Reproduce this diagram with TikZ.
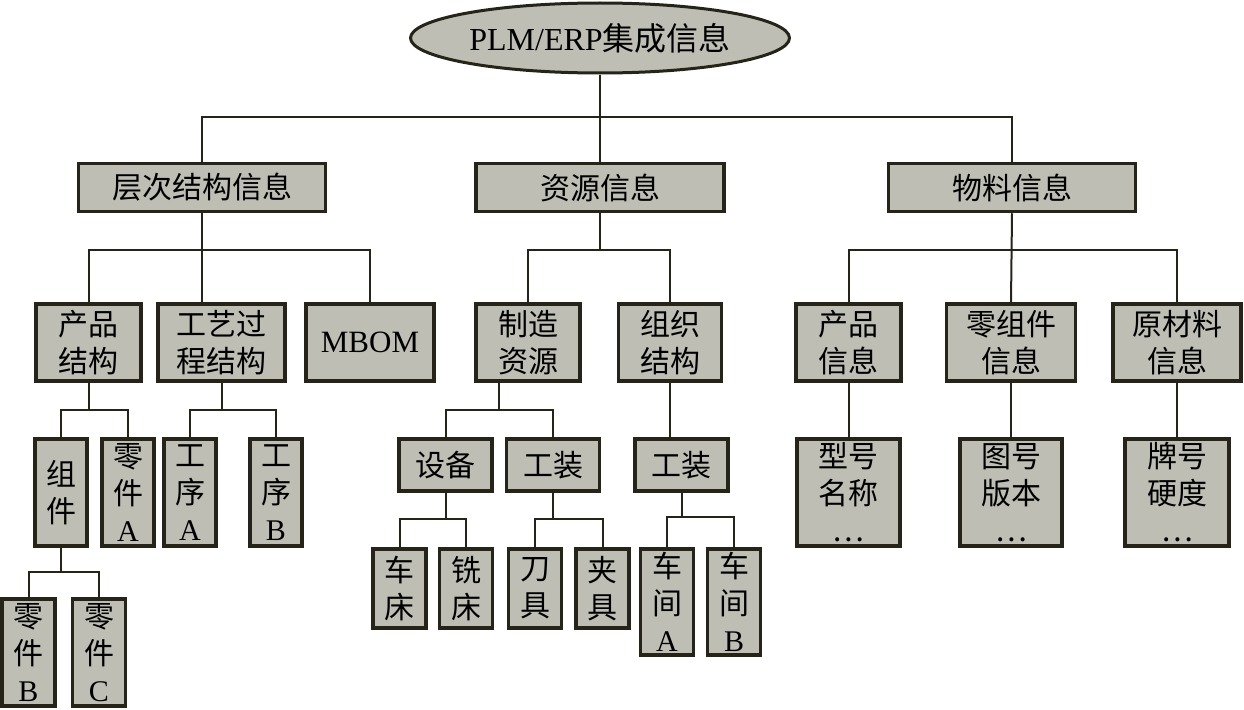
\documentclass[tikz,border=0pt]{standalone}
\usepackage{fontspec}
\setmainfont{Liberation Serif}
\newfontfamily\cjk{Noto Sans CJK SC}
\usetikzlibrary{shapes.geometric,calc}
\definecolor{boxfill}{RGB}{190,190,181}
\definecolor{boxline}{RGB}{38,36,24}
\begin{document}
\begin{tikzpicture}[x=1pt,y=-1pt,
  box/.style={draw=boxline,line width=3.5pt,fill=boxfill,inner sep=0pt,align=center,
    font=\fontsize{30}{37}\selectfont\cjk},
  conn/.style={draw=boxline,line width=2pt}]
\useasboundingbox (0,0) rectangle (1244,709);
% root
\node[ellipse,draw=boxline,line width=3pt,fill=boxfill,inner sep=0pt,
  minimum width=379pt,minimum height=70pt,font=\fontsize{32}{38}\selectfont] (root) at (600,38) {PLM/ERP{\cjk 集成信息}};
% level 1
\node[box,minimum width=247pt,minimum height=48pt] (L1a) at (202,187.5) {层次结构信息};
\node[box,minimum width=248pt,minimum height=48pt] (L1b) at (600,187.5) {资源信息};
\node[box,minimum width=247pt,minimum height=48pt] (L1c) at (1012,187.5) {物料信息};
% level 2
\node[box,minimum width=105pt,minimum height=77pt] (cpjg) at (88.5,342.5) {产品\\结构};
\node[box,minimum width=127pt,minimum height=77pt] (gygc) at (221.5,342.5) {工艺过\\程结构};
\node[box,minimum width=128pt,minimum height=77pt,font=\fontsize{31}{37}\selectfont] (mbom) at (370,342.5) {MBOM};
\node[box,minimum width=104pt,minimum height=77pt] (zzzy) at (528,342.5) {制造\\资源};
\node[box,minimum width=103pt,minimum height=77pt] (zzjg) at (670,342.5) {组织\\结构};
\node[box,minimum width=105pt,minimum height=77pt] (cpxx) at (848.5,342.5) {产品\\信息};
\node[box,minimum width=129pt,minimum height=77pt] (lzj) at (1011,342.5) {零组件\\信息};
\node[box,minimum width=128pt,minimum height=77pt] (ycl) at (1177,342.5) {原材料\\信息};
% level 3
\node[box,minimum width=52pt,minimum height=107pt] (zj) at (61,492.5) {组\\件};
\node[box,minimum width=52pt,minimum height=107pt] (ljA) at (128,492.5) {零\\件\\{\rmfamily A}};
\node[box,minimum width=52pt,minimum height=107pt] (gxA) at (190,492.5) {工\\序\\{\rmfamily A}};
\node[box,minimum width=52pt,minimum height=107pt] (gxB) at (276,492.5) {工\\序\\{\rmfamily B}};
\node[box,minimum width=93pt,minimum height=52pt] (sb) at (445.5,465) {设备};
\node[box,minimum width=93pt,minimum height=52pt] (gz) at (553,465) {工装};
\node[box,minimum width=93pt,minimum height=52pt] (gz2) at (681.5,465) {工装};
\node[box,minimum width=103pt,minimum height=107pt] (xhmc) at (848.5,492.5) {型号\\名称\\…};
\node[box,minimum width=102pt,minimum height=107pt] (thbb) at (1011,492.5) {图号\\版本\\…};
\node[box,minimum width=104pt,minimum height=107pt] (phyd) at (1177,492.5) {牌号\\硬度\\…};
% level 4
\node[box,minimum width=53pt,minimum height=79pt] (cc) at (399.5,588.5) {车\\床};
\node[box,minimum width=53pt,minimum height=79pt] (xc) at (466,588.5) {铣\\床};
\node[box,minimum width=53pt,minimum height=79pt] (dj) at (535,588.5) {刀\\具};
\node[box,minimum width=53pt,minimum height=79pt] (jj) at (602.5,588.5) {夹\\具};
\node[box,minimum width=53pt,minimum height=106pt] (cjA) at (667,602) {车\\间\\{\rmfamily A}};
\node[box,minimum width=53pt,minimum height=106pt] (cjB) at (734,602) {车\\间\\{\rmfamily B}};
% level 5
\node[box,minimum width=53pt,minimum height=107pt] (ljB) at (28.5,652.5) {零\\件\\{\rmfamily B}};
\node[box,minimum width=53pt,minimum height=107pt] (ljC) at (99,652.5) {零\\件\\{\rmfamily C}};
% bus coordinates
\coordinate (bus0) at (0,117);
\coordinate (bus1) at (0,250);
\coordinate (bus2) at (0,410);
\coordinate (bus3) at (0,572);
\coordinate (bus4) at (0,519);
\coordinate (bus5) at (0,517);
\coordinate (m1) at ($(sb.north)!0.5!(gz.north)$);
% connectors
\draw[conn] (root.south) -- (L1b.north);
\draw[conn] (L1a.north) |- (L1c.north |- bus0) -- (L1c.north);
\draw[conn] (L1a.south) -- (L1a.south |- gygc.north);
\draw[conn] (cpjg.north) |- (mbom.north |- bus1) -- (mbom.north);
\draw[conn] (L1b.south) -- (L1b.south |- bus1);
\draw[conn] (zzzy.north) |- (zzjg.north |- bus1) -- (zzjg.north);
\draw[conn] (L1c.south) -- (lzj.north);
\draw[conn] (cpxx.north) |- (ycl.north |- bus1) -- (ycl.north);
\draw[conn] (cpjg.south) -- (cpjg.south |- bus2);
\draw[conn] (zj.north) |- (ljA.north |- bus2) -- (ljA.north);
\draw[conn] (gygc.south) -- (gygc.south |- bus2);
\draw[conn] (gxA.north) |- (gxB.north |- bus2) -- (gxB.north);
\draw[conn] (zzzy.south -| m1) -- (m1 |- bus2);
\draw[conn] (sb.north) |- (gz.north |- bus2) -- (gz.north);
\draw[conn] (zzjg.south) -- (zzjg.south |- gz2.north);
\draw[conn] (cpxx.south) -- (xhmc.north);
\draw[conn] (lzj.south) -- (thbb.north);
\draw[conn] (ycl.south) -- (phyd.north);
\draw[conn] (zj.south) -- (zj.south |- bus3);
\draw[conn] (ljB.north) |- (ljC.north |- bus3) -- (ljC.north);
\draw[conn] (sb.south) -- (sb.south |- bus4);
\draw[conn] (cc.north) |- (xc.north |- bus4) -- (xc.north);
\draw[conn] (gz.south) -- (gz.south |- bus4);
\draw[conn] (dj.north) |- (jj.north |- bus4) -- (jj.north);
\draw[conn] (gz2.south) -- (gz2.south |- bus5);
\draw[conn] (cjA.north) |- (cjB.north |- bus5) -- (cjB.north);
\end{tikzpicture}
\end{document}
